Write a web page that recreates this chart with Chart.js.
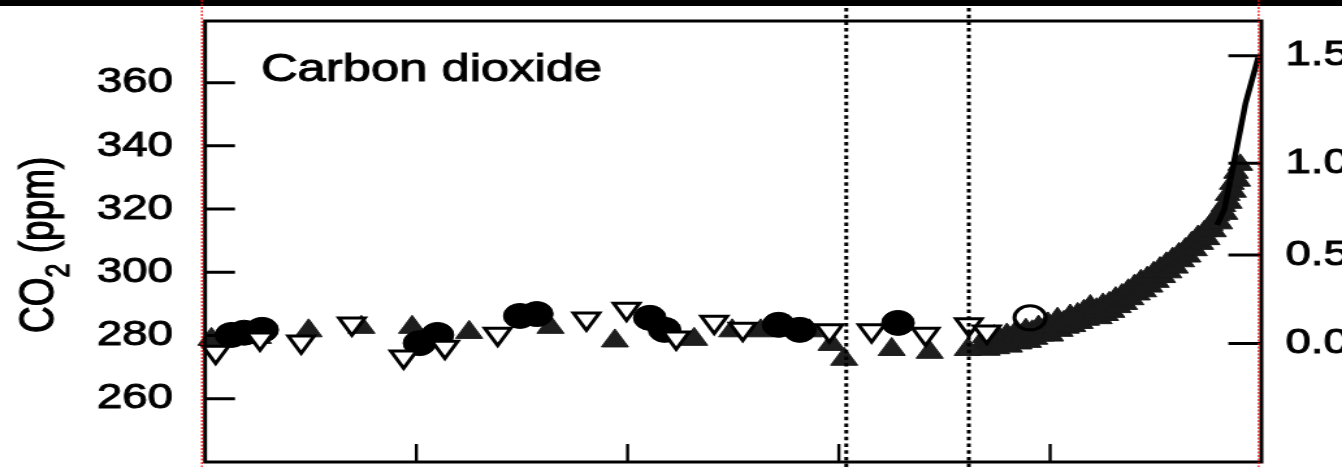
<!DOCTYPE html>
<html>
<head>
<meta charset="utf-8">
<title>Carbon dioxide</title>
<script src="https://cdn.jsdelivr.net/npm/chart.js@4.4.1/dist/chart.umd.min.js"></script>
<style>
    html, body { margin: 0; padding: 0; background: #fff; overflow: hidden; }
    /* the source figure is stretched sideways, so the whole chart is too */
    #wrap { width: 1032px; height: 467px; transform: scaleX(1.3004); transform-origin: 0 0; }
</style>
</head>
<body>
<div id="wrap"><canvas id="co2Chart"></canvas></div>
<script>
// Axis ranges and tick values
const yMin = 240;
const yMax = 379.5;
const ppmTicks = [260, 280, 300, 320, 340, 360];
const forcingLabels = ['0.0', '0.5', '1.0', '1.5'];
const forcingTickPpm = [277.5, 305.5, 334.5, 368.5];   // where each forcing label sits on the ppm scale
const yearTicks = [1200, 1400, 1600, 1800];
const markerYears = [1607, 1723];                      // dotted vertical lines

// Ice core series
const filledCircleYears = [1025, 1037, 1054, 1203, 1220, 1298, 1314, 1421, 1435, 1543, 1563, 1656];
const filledCirclePpm = [280.2, 280.9, 281.8, 277.6, 280.2, 286.2, 286.8, 285.6, 281.8, 283.4, 281.8, 284.0];

const openTriYears = [1010, 1052, 1091, 1139, 1188, 1227, 1277, 1361, 1399, 1446, 1482, 1509, 1591, 1631, 1682, 1723, 1740];
const openTriPpm = [274.8, 279.0, 278.0, 283.7, 273.3, 276.4, 280.5, 285.3, 288.4, 279.3, 284.3, 282.1, 281.6, 281.6, 280.5, 283.5, 281.2];

const filledTriYears = [1006, 1050, 1098, 1148, 1196, 1250, 1327, 1388, 1463, 1499, 1526, 1572, 1593, 1605, 1650, 1686, 1722];
const filledTriPpm = [278.8, 279.4, 281.5, 282.6, 282.6, 281.0, 282.6, 278.3, 278.8, 281.5, 281.5, 281.5, 277.2, 272.5, 275.6, 274.7, 275.6];

const openCircleYears = [1781];
const openCirclePpm = [285.6];

const lawDomeYears = [1735, 1738, 1741, 1744, 1747, 1750, 1753, 1756, 1759, 1762, 1765, 1768, 1771, 1774, 1777,
    1780, 1783, 1786, 1789, 1792, 1795, 1798, 1801, 1804, 1807, 1810, 1813, 1816, 1819, 1822, 1826, 1829, 1832,
    1835, 1838, 1841, 1844, 1847, 1850, 1853, 1856, 1859, 1862, 1865, 1868, 1871, 1874, 1877, 1880, 1883, 1886,
    1889, 1892, 1895, 1898, 1901, 1904, 1907, 1910, 1913, 1916, 1919, 1922, 1925, 1928, 1931, 1934, 1937, 1940,
    1943, 1946, 1949, 1952, 1955, 1958, 1961, 1964, 1966, 1968, 1970, 1972, 1974, 1976, 1978, 1980];
const lawDomePpm = [277.0, 279.5, 275.5, 278.5, 280.0, 276.0, 279.0, 277.0, 280.5, 276.5, 279.5, 281.5, 277.5, 280.5, 282.0,
    278.0, 281.5, 279.0, 283.0, 280.0, 282.5, 284.0, 280.0, 283.0, 285.5, 281.5, 284.5, 282.5, 286.5, 283.0, 287.0, 284.0, 288.0,
    285.0, 289.5, 286.0, 288.5, 285.5, 290.0, 286.5, 290.5, 287.5, 292.0, 289.0, 293.0, 290.0, 294.5, 291.5, 296.0, 293.0, 297.5,
    294.0, 298.5, 295.5, 300.0, 297.0, 301.5, 298.5, 303.0, 300.0, 304.5, 301.5, 306.0, 303.5, 307.5, 305.0, 309.5, 307.0, 311.5,
    309.0, 313.0, 310.5, 315.0, 313.0, 318.0, 315.5, 321.0, 318.5, 324.5, 322.0, 328.0, 325.5, 331.5, 329.0, 334.0];

// Atmospheric record (line)
const maunaLoaYears = [1958, 1965, 1975, 1985, 1997];
const maunaLoaPpm = [315, 320, 336.5, 353.5, 368];

const FONT = '"Liberation Sans", Arial, Helvetica, sans-serif';

function toXY(xs, ys) {
    return xs.map((x, i) => ({ x: x, y: ys[i] }));
}

// text with a thin outline so it looks as heavy as the scanned figure
function heavyText(ctx, text, x, y) {
    ctx.fillText(text, x, y);
    ctx.strokeText(text, x, y);
}

// Frame, inward ticks, title, axis label and the guide lines
const framePlugin = {
    id: 'frame',
    beforeDraw(chart) {
        const ctx = chart.ctx;
        ctx.save();
        ctx.fillStyle = '#000';
        ctx.fillRect(0, 0, chart.width, 6);
        ctx.restore();
    },
    afterDatasetsDraw(chart) {
        const ctx = chart.ctx;
        const a = chart.chartArea;
        const sx = chart.scales.x, sy = chart.scales.y, sy2 = chart.scales.y2;
        ctx.save();

        // dotted vertical lines
        ctx.strokeStyle = '#000';
        ctx.lineWidth = 3;
        ctx.setLineDash([3.5, 3.2]);
        markerYears.forEach(yr => {
            const px = sx.getPixelForValue(yr);
            ctx.beginPath();
            ctx.moveTo(px, 8);
            ctx.lineTo(px, chart.height);
            ctx.stroke();
        });
        ctx.setLineDash([]);

        // box
        ctx.lineWidth = 3;
        ctx.strokeRect(a.left, a.top, a.right - a.left, a.bottom - a.top);

        // ticks pointing inward
        ctx.beginPath();
        ppmTicks.forEach(v => {
            const py = sy.getPixelForValue(v);
            ctx.moveTo(a.left, py);
            ctx.lineTo(a.left + 23, py);
        });
        forcingTickPpm.forEach(v => {
            const py = sy2.getPixelForValue(v);
            ctx.moveTo(a.right, py);
            ctx.lineTo(a.right - 25.4, py);
        });
        ctx.stroke();
        ctx.lineWidth = 2.4;
        ctx.beginPath();
        yearTicks.forEach(yr => {
            const px = sx.getPixelForValue(yr);
            ctx.moveTo(px, a.bottom);
            ctx.lineTo(px, a.bottom - 18);
        });
        ctx.stroke();

        // panel title
        ctx.fillStyle = '#000';
        ctx.lineWidth = 1;
        ctx.textBaseline = 'alphabetic';
        ctx.textAlign = 'left';
        ctx.font = '39px ' + FONT;
        heavyText(ctx, 'Carbon dioxide', a.left + 43, 81);

        // rotated y label: CO2 (ppm)
        ctx.save();
        ctx.translate(a.left - 117, a.bottom - 129);
        ctx.rotate(-Math.PI / 2);
        ctx.font = '37px ' + FONT;
        heavyText(ctx, 'CO', 0, 0);
        let w = ctx.measureText('CO').width;
        ctx.font = '25px ' + FONT;
        heavyText(ctx, '2', w, 12);
        w += ctx.measureText('2').width;
        ctx.font = '37px ' + FONT;
        heavyText(ctx, ' (ppm)', w, 0);
        ctx.restore();

        // red dotted guides
        ctx.strokeStyle = '#ff0000';
        ctx.lineWidth = 1.2;
        ctx.setLineDash([2, 1.5]);
        [a.left - 2.5, a.right - 2.1].forEach(px => {
            ctx.beginPath();
            ctx.moveTo(px, 0);
            ctx.lineTo(px, chart.height);
            ctx.stroke();
        });
        ctx.restore();
    }
};

// small lineHeight keeps the tick labels from pushing the plot area in
const tickFont = { family: FONT, size: 35, lineHeight: 0.2 };

const ctx = document.getElementById('co2Chart');
new Chart(ctx, {
    type: 'scatter',
    data: {
        datasets: [
            {
                type: 'line',
                label: 'Atmospheric',
                data: toXY(maunaLoaYears, maunaLoaPpm),
                borderColor: '#000',
                borderWidth: 4.5,
                pointRadius: 0,
                tension: 0,
                clip: false
            },
            {
                label: 'Open triangles',
                data: toXY(openTriYears, openTriPpm),
                pointStyle: 'triangle',
                rotation: 180,
                pointRadius: 11.5,
                backgroundColor: '#fff',
                borderColor: '#000',
                borderWidth: 3,
                clip: false
            },
            {
                label: 'Open circle',
                data: toXY(openCircleYears, openCirclePpm),
                pointStyle: 'circle',
                pointRadius: 12,
                backgroundColor: 'rgba(0,0,0,0)',
                borderColor: '#000',
                borderWidth: 3,
                clip: false
            },
            {
                label: 'Filled circles',
                data: toXY(filledCircleYears, filledCirclePpm),
                pointStyle: 'circle',
                pointRadius: 12.5,
                backgroundColor: '#000',
                borderColor: '#000',
                borderWidth: 1,
                clip: false
            },
            {
                label: 'Filled triangles',
                data: toXY(filledTriYears, filledTriPpm),
                pointStyle: 'triangle',
                pointRadius: 12,
                backgroundColor: '#1e1e1e',
                borderColor: '#1e1e1e',
                borderWidth: 1,
                clip: false
            },
            {
                label: 'Law Dome',
                data: toXY(lawDomeYears, lawDomePpm),
                pointStyle: 'triangle',
                pointRadius: 11,
                backgroundColor: '#1a1a1a',
                borderColor: '#1a1a1a',
                borderWidth: 1,
                clip: false
            }
        ]
    },
    options: {
        responsive: true,
        maintainAspectRatio: false,
        animation: false,
        events: [],
        layout: { autoPadding: false, padding: { top: 21, bottom: 5, left: 0, right: 0 } },
        plugins: {
            legend: { display: false },
            tooltip: { enabled: false }
        },
        scales: {
            x: {
                type: 'linear',
                display: false,
                min: 1000,
                max: 2000
            },
            y: {
                position: 'left',
                min: yMin,
                max: yMax,
                afterBuildTicks: s => { s.ticks = ppmTicks.map(v => ({ value: v })); },
                afterFit: s => { s.width = 157.7; s.paddingTop = 0; s.paddingBottom = 0; },
                grid: { display: false, drawTicks: false },
                border: { display: false },
                ticks: { padding: 24.7, color: '#000', font: tickFont, textStrokeColor: '#000', textStrokeWidth: 1 }
            },
            y2: {
                position: 'right',
                min: yMin,
                max: yMax,
                afterBuildTicks: s => { s.ticks = forcingTickPpm.map(v => ({ value: v })); },
                afterFit: s => { s.width = 62; s.paddingTop = 0; s.paddingBottom = 0; },
                grid: { display: false, drawTicks: false },
                border: { display: false },
                ticks: {
                    padding: 18.5,
                    color: '#000',
                    font: tickFont,
                    textStrokeColor: '#000',
                    textStrokeWidth: 1,
                    callback: (v, i) => forcingLabels[i]
                }
            }
        }
    },
    plugins: [framePlugin]
});
</script>
</body>
</html>
